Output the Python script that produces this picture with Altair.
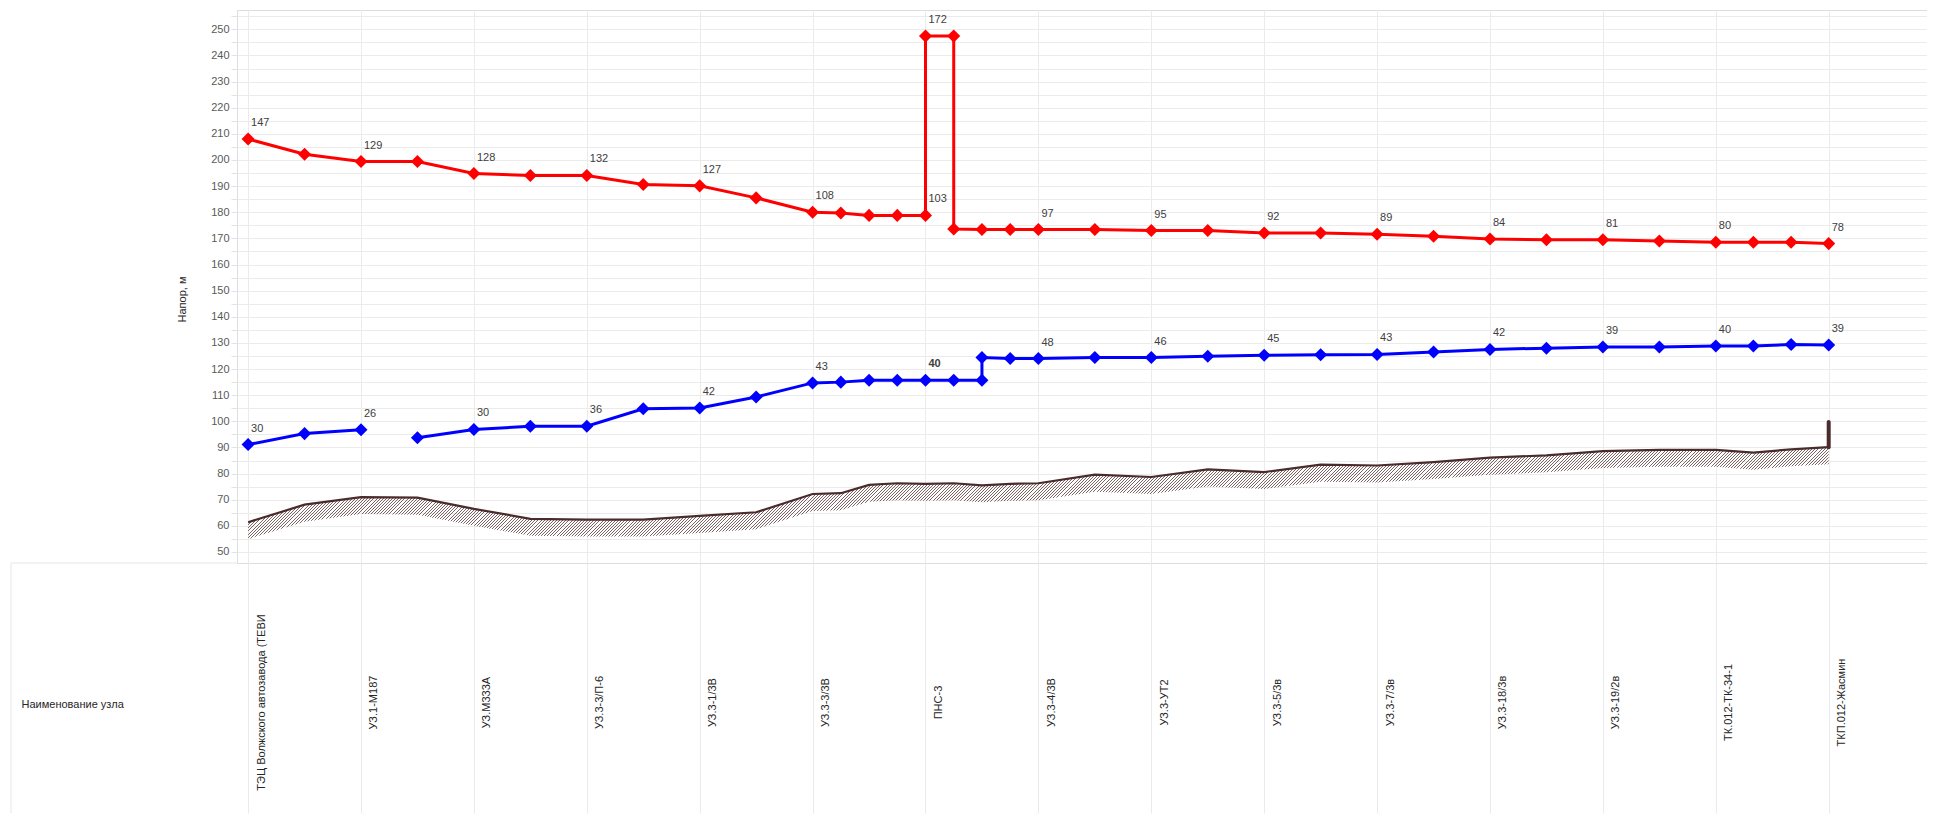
import json
import altair as alt
import pandas as pd

# ---------------- data ----------------
node_names = ["ТЭЦ Волжского автозавода (ТЕВИ", "УЗ.1-М187", "УЗ.М333А", "УЗ.3-3/П-6",
              "УЗ.3-1/3В", "УЗ.3-3/3В", "ПНС-3", "УЗ.3-4/3В", "УЗ.3-УТ2", "УЗ.3-5/3в",
              "УЗ.3-7/3в", "УЗ.3-18/3в", "УЗ.3-19/2в", "ТК.012-ТК-34-1", "ТКП.012-Жасмин"]
node_pos = list(range(15))

red_x = [0, 0.5, 1, 1.5, 2, 2.5, 3, 3.5, 4, 4.5, 5, 5.25, 5.5, 5.75, 6, 6, 6.25, 6.25,
         6.5, 6.75, 7, 7.5, 8, 8.5, 9, 9.5, 10, 10.5, 11, 11.5, 12, 12.5, 13, 13.333, 13.667, 14]
red_y = [208.0, 202.2, 199.4, 199.4, 194.8, 194.1, 194.1, 190.6, 190.1, 185.5, 180.0, 179.7,
         178.8, 178.8, 178.8, 247.4, 247.4, 173.6, 173.4, 173.4, 173.4, 173.4, 173.0, 173.0,
         172.1, 172.1, 171.6, 170.8, 169.8, 169.5, 169.5, 169.0, 168.5, 168.5, 168.5, 168.0]
red_label_index = [0, 2, 4, 6, 8, 10, 14, 15, 20, 22, 24, 26, 28, 30, 32, 35]
red_labels = ["147", "129", "128", "132", "127", "108", "103", "172", "97", "95", "92",
              "89", "84", "81", "80", "78"]

blue_x = [0, 0.5, 1, 1.5, 2, 2.5, 3, 3.5, 4, 4.5, 5, 5.25, 5.5, 5.75, 6, 6.25, 6.5, 6.5,
          6.75, 7, 7.5, 8, 8.5, 9, 9.5, 10, 10.5, 11, 11.5, 12, 12.5, 13, 13.333, 13.667, 14]
blue_y = [91.1, 95.3, 96.8, 93.7, 96.9, 98.1, 98.1, 104.8, 105.1, 109.3, 114.7, 115.0,
          115.7, 115.7, 115.7, 115.7, 115.7, 124.4, 124.0, 124.0, 124.4, 124.4, 124.9, 125.3,
          125.5, 125.6, 126.5, 127.5, 128.0, 128.4, 128.4, 128.8, 128.8, 129.4, 129.2]
blue_segment = [0, 0, 0] + [1] * 32
blue_label_index = [0, 2, 4, 6, 8, 10, 14, 19, 21, 23, 25, 27, 29, 31, 34]
blue_labels = ["30", "26", "30", "36", "42", "43", "40", "48", "46", "45", "43", "42",
               "39", "40", "39"]
blue_label_bold = [False] * 6 + [True] + [False] * 8

ground_x = [0, 0.5, 1, 1.5, 2, 2.5, 3, 3.5, 4, 4.5, 5, 5.25, 5.5, 5.75, 6, 6.25, 6.5, 6.75,
            7, 7.5, 8, 8.5, 9, 9.5, 10, 10.5, 11, 11.5, 12, 12.5, 13, 13.333, 13.667, 14]
ground_y = [61.4, 68.1, 71.0, 70.8, 66.5, 62.7, 62.4, 62.4, 63.8, 65.2, 72.2, 72.5, 75.7,
            76.3, 76.1, 76.3, 75.5, 76.1, 76.3, 79.6, 78.7, 81.6, 80.6, 83.4, 83.1, 84.4,
            86.1, 87.0, 88.6, 89.1, 89.1, 88.0, 89.3, 90.1]
stub_x = [14]
stub_low = [90.1]
stub_high = [99.7]

y_ticks = list(range(50, 256, 5))

# ---------------- layout / style ----------------
FONT = "Liberation Sans, Arial, sans-serif"
GRID = "#ebebeb"
W, H = 1690, 553
XMIN, XMAX = -0.0983, -0.0983 + 1690 / 112.9
YMIN, YMAX = 45.79, 257.39
TABLE = 250
HATCH_DEPTH = 6.5
RED, BLUE, EARTH, HATCH = "#ff0000", "#0000ff", "#4b2b2b", "#7a6464"

red_df = pd.DataFrame({"x": red_x, "y": red_y, "i": range(len(red_x))})
blue_df = pd.DataFrame({"x": blue_x, "y": blue_y, "seg": blue_segment, "i": range(len(blue_x))})
ground_df = pd.DataFrame({"x": ground_x, "ground": ground_y})
stub_df = pd.DataFrame({"x": stub_x, "lo": stub_low, "hi": stub_high})
lab_df = pd.concat([
    pd.DataFrame({"x": [red_x[i] for i in red_label_index],
                  "y": [red_y[i] for i in red_label_index],
                  "t": red_labels, "bold": False}),
    pd.DataFrame({"x": [blue_x[i] for i in blue_label_index],
                  "y": [blue_y[i] for i in blue_label_index],
                  "t": blue_labels, "bold": blue_label_bold}),
], ignore_index=True)
one_row = pd.DataFrame({"k": [0]})

# hatch as a striped linear gradient over the bounding box of the band
def xs(v):
    return (v - XMIN) / (XMAX - XMIN) * W

def ys(v):
    return (YMAX - v) / (YMAX - YMIN) * H

bw = xs(max(ground_x)) - xs(min(ground_x))
bh = ys(min(ground_y) - HATCH_DEPTH) - ys(max(ground_y))
r = bh / bw
k = (1 + r) / (1 + r * r)
dt = 3.1 / (bw * k * (1 + r * r))
CLEAR = "rgba(255,255,255,0)"
stops = []
t = 0.0
while t < 1.0:
    b = min(t + 0.32 * dt, 1.0)
    c = min(t + dt, 1.0)
    stops += [alt.GradientStop(offset=round(t, 6), color=HATCH),
              alt.GradientStop(offset=round(b, 6), color=HATCH),
              alt.GradientStop(offset=round(b, 6), color=CLEAR),
              alt.GradientStop(offset=round(c, 6), color=CLEAR)]
    t += dt
hatch_fill = alt.LinearGradient(gradient="linear", stops=stops, x1=0, y1=0, x2=k, y2=k * r)

label_expr = json.dumps(node_names, ensure_ascii=False) + "[datum.value]"

x_axis = alt.Axis(values=node_pos, labelExpr=label_expr, labelAngle=270, labelAlign="center",
                  labelBaseline="middle", labelOffset=13, labelPadding=139 - TABLE,
                  labelFont=FONT, labelFontSize=11, labelColor="#262626", labelLimit=500,
                  labelFlush=False, labelOverlap=False,
                  tickSize=TABLE, tickColor=GRID, domain=False, grid=True, gridColor=GRID,
                  title="Наименование узла", titleX=-216, titleY=141, titleAlign="left",
                  titleBaseline="middle", titleAngle=0, titleFont=FONT, titleFontSize=11,
                  titleFontWeight="normal", titleColor="#262626")
y_axis = alt.Axis(values=y_ticks, labelExpr="datum.value % 10 === 0 ? datum.label : ''",
                  labelFont=FONT, labelFontSize=11, labelColor="#595959", labelPadding=2,
                  tickSize=6, tickColor="#e3e3e3", domain=False, grid=True, gridColor=GRID,
                  title="Напор, м", titleX=-55, titleY=289, titleAngle=270, titleAlign="center",
                  titleBaseline="middle", titleFont=FONT, titleFontSize=11,
                  titleFontWeight="normal", titleColor="#262626")

YSCALE = alt.Scale(domain=[YMIN, YMAX], nice=False, zero=False)
X = alt.X("x:Q", scale=alt.Scale(domain=[XMIN, XMAX], nice=False, zero=False), axis=x_axis)
Y = alt.Y("y:Q", scale=YSCALE, axis=y_axis)

hatch = alt.Chart(ground_df).transform_calculate(
    low=f"datum.ground - {HATCH_DEPTH}"
).mark_area(fill=hatch_fill, strokeWidth=0).encode(
    x=X, y=alt.Y("ground:Q", scale=YSCALE, axis=y_axis), y2="low:Q")

ground = alt.Chart(ground_df).mark_line(color=EARTH, strokeWidth=2.2).encode(
    x=X, y=alt.Y("ground:Q", scale=YSCALE, axis=y_axis))

stub = alt.Chart(stub_df).mark_rule(color=EARTH, strokeWidth=4, strokeCap="round").encode(
    x=X, y=alt.Y("lo:Q", scale=YSCALE, axis=y_axis), y2="hi:Q")

red_line = alt.Chart(red_df).mark_line(color=RED, strokeWidth=3).encode(
    x=X, y=Y, order="i:Q")
red_pts = alt.Chart(red_df).mark_point(shape="diamond", filled=True, size=170, color=RED,
                                       opacity=1).encode(x=X, y=Y)
blue_line = alt.Chart(blue_df).mark_line(color=BLUE, strokeWidth=3).encode(
    x=X, y=Y, detail="seg:N", order="i:Q")
blue_pts = alt.Chart(blue_df).mark_point(shape="diamond", filled=True, size=170, color=BLUE,
                                         opacity=1).encode(x=X, y=Y)

labels = alt.Chart(lab_df).transform_filter("!datum.bold").mark_text(
    align="left", baseline="middle", dx=3, dy=-16, font=FONT, fontSize=11, color="#404040"
).encode(x=X, y=Y, text="t:N")
labels_bold = alt.Chart(lab_df).transform_filter("datum.bold").mark_text(
    align="left", baseline="middle", dx=3, dy=-16, font=FONT, fontSize=11, fontWeight="bold",
    color="#404040").encode(x=X, y=Y, text="t:N")

# frame of the name cell, left of the plot
cell_top = alt.Chart(one_row).mark_rule(color="#e6e6e6", strokeWidth=1).encode(
    x=alt.value(-226), x2=alt.value(0), y=alt.value(H))
cell_left = alt.Chart(one_row).mark_rule(color="#e6e6e6", strokeWidth=1).encode(
    x=alt.value(-226), y=alt.value(H), y2=alt.value(H + TABLE))

chart = alt.layer(
    hatch, ground, stub, red_line, blue_line, red_pts, blue_pts, labels, labels_bold,
    cell_top, cell_left
).properties(
    width=W, height=H,
    autosize=alt.AutoSizeParams(type="none"),
    padding={"left": 229, "top": 2, "right": 0, "bottom": TABLE + 2},
).configure_view(stroke="#e6e6e6").configure(background="white")

chart.save("out.html", embed_options={"renderer": "svg", "actions": False})
